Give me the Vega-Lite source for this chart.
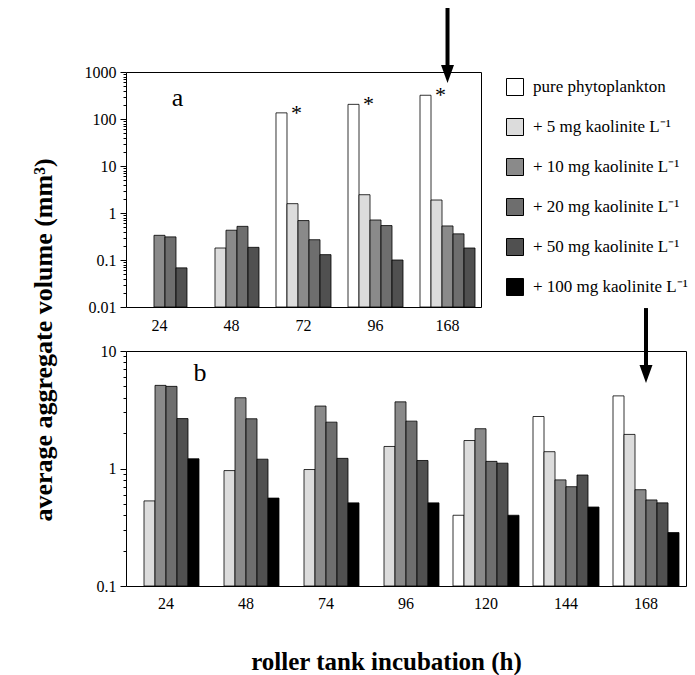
{
  "$schema": "https://vega.github.io/schema/vega-lite/v6.json",
  "background": "white",
  "padding": {"left": 30, "top": 5, "right": 2, "bottom": 0},
  "title": {"text": "average aggregate volume (mm³)", "orient": "left", "anchor": "middle", "font": "Liberation Serif", "fontSize": 26, "fontWeight": "bold", "color": "black", "offset": 27},
  "config": {
    "view": {"stroke": "black", "strokeWidth": 1},
    "font": "Liberation Serif",
    "axis": {"labelFont": "Liberation Serif", "labelFontSize": 16, "labelColor": "black", "domainColor": "black", "tickColor": "black", "grid": false, "titleFont": "Liberation Serif", "titleColor": "black"}
  },
  "datasets": {
    "a": [
      {"t": "24", "s": "+ 10 mg kaolinite L⁻¹", "v": 0.335},
      {"t": "24", "s": "+ 20 mg kaolinite L⁻¹", "v": 0.31},
      {"t": "24", "s": "+ 50 mg kaolinite L⁻¹", "v": 0.068},
      {"t": "48", "s": "+ 5 mg kaolinite L⁻¹", "v": 0.18},
      {"t": "48", "s": "+ 10 mg kaolinite L⁻¹", "v": 0.43},
      {"t": "48", "s": "+ 20 mg kaolinite L⁻¹", "v": 0.52},
      {"t": "48", "s": "+ 50 mg kaolinite L⁻¹", "v": 0.186},
      {"t": "72", "s": "pure phytoplankton", "v": 135},
      {"t": "72", "s": "+ 5 mg kaolinite L⁻¹", "v": 1.58},
      {"t": "72", "s": "+ 10 mg kaolinite L⁻¹", "v": 0.69},
      {"t": "72", "s": "+ 20 mg kaolinite L⁻¹", "v": 0.27},
      {"t": "72", "s": "+ 50 mg kaolinite L⁻¹", "v": 0.13},
      {"t": "96", "s": "pure phytoplankton", "v": 205},
      {"t": "96", "s": "+ 5 mg kaolinite L⁻¹", "v": 2.45},
      {"t": "96", "s": "+ 10 mg kaolinite L⁻¹", "v": 0.71},
      {"t": "96", "s": "+ 20 mg kaolinite L⁻¹", "v": 0.54},
      {"t": "96", "s": "+ 50 mg kaolinite L⁻¹", "v": 0.10},
      {"t": "168", "s": "pure phytoplankton", "v": 320},
      {"t": "168", "s": "+ 5 mg kaolinite L⁻¹", "v": 1.89},
      {"t": "168", "s": "+ 10 mg kaolinite L⁻¹", "v": 0.53},
      {"t": "168", "s": "+ 20 mg kaolinite L⁻¹", "v": 0.36},
      {"t": "168", "s": "+ 50 mg kaolinite L⁻¹", "v": 0.18}
    ],
    "b": [
      {"t": "24", "s": "+ 5 mg kaolinite L⁻¹", "v": 0.53},
      {"t": "24", "s": "+ 10 mg kaolinite L⁻¹", "v": 5.1},
      {"t": "24", "s": "+ 20 mg kaolinite L⁻¹", "v": 5.0},
      {"t": "24", "s": "+ 50 mg kaolinite L⁻¹", "v": 2.66},
      {"t": "24", "s": "+ 100 mg kaolinite L⁻¹", "v": 1.21},
      {"t": "48", "s": "+ 5 mg kaolinite L⁻¹", "v": 0.96},
      {"t": "48", "s": "+ 10 mg kaolinite L⁻¹", "v": 4.0},
      {"t": "48", "s": "+ 20 mg kaolinite L⁻¹", "v": 2.65},
      {"t": "48", "s": "+ 50 mg kaolinite L⁻¹", "v": 1.2},
      {"t": "48", "s": "+ 100 mg kaolinite L⁻¹", "v": 0.56},
      {"t": "74", "s": "+ 5 mg kaolinite L⁻¹", "v": 0.98},
      {"t": "74", "s": "+ 10 mg kaolinite L⁻¹", "v": 3.4},
      {"t": "74", "s": "+ 20 mg kaolinite L⁻¹", "v": 2.48},
      {"t": "74", "s": "+ 50 mg kaolinite L⁻¹", "v": 1.22},
      {"t": "74", "s": "+ 100 mg kaolinite L⁻¹", "v": 0.51},
      {"t": "96", "s": "+ 5 mg kaolinite L⁻¹", "v": 1.54},
      {"t": "96", "s": "+ 10 mg kaolinite L⁻¹", "v": 3.69},
      {"t": "96", "s": "+ 20 mg kaolinite L⁻¹", "v": 2.53},
      {"t": "96", "s": "+ 50 mg kaolinite L⁻¹", "v": 1.17},
      {"t": "96", "s": "+ 100 mg kaolinite L⁻¹", "v": 0.51},
      {"t": "120", "s": "pure phytoplankton", "v": 0.40},
      {"t": "120", "s": "+ 5 mg kaolinite L⁻¹", "v": 1.73},
      {"t": "120", "s": "+ 10 mg kaolinite L⁻¹", "v": 2.18},
      {"t": "120", "s": "+ 20 mg kaolinite L⁻¹", "v": 1.15},
      {"t": "120", "s": "+ 50 mg kaolinite L⁻¹", "v": 1.11},
      {"t": "120", "s": "+ 100 mg kaolinite L⁻¹", "v": 0.40},
      {"t": "144", "s": "pure phytoplankton", "v": 2.77},
      {"t": "144", "s": "+ 5 mg kaolinite L⁻¹", "v": 1.39},
      {"t": "144", "s": "+ 10 mg kaolinite L⁻¹", "v": 0.80},
      {"t": "144", "s": "+ 20 mg kaolinite L⁻¹", "v": 0.70},
      {"t": "144", "s": "+ 50 mg kaolinite L⁻¹", "v": 0.88},
      {"t": "144", "s": "+ 100 mg kaolinite L⁻¹", "v": 0.47},
      {"t": "168", "s": "pure phytoplankton", "v": 4.15},
      {"t": "168", "s": "+ 5 mg kaolinite L⁻¹", "v": 1.95},
      {"t": "168", "s": "+ 10 mg kaolinite L⁻¹", "v": 0.66},
      {"t": "168", "s": "+ 20 mg kaolinite L⁻¹", "v": 0.54},
      {"t": "168", "s": "+ 50 mg kaolinite L⁻¹", "v": 0.51},
      {"t": "168", "s": "+ 100 mg kaolinite L⁻¹", "v": 0.285}
    ],
    "starsA": [
      {"t": "72", "s": "pure phytoplankton", "v": 135, "label": "*"},
      {"t": "96", "s": "pure phytoplankton", "v": 205, "label": "*"},
      {"t": "168", "s": "pure phytoplankton", "v": 320, "label": "*"}
    ],
    "labA": [{"t": "24", "v": 280, "label": "a"}],
    "labB": [{"t": "24", "v": 6.5, "label": "b"}],
    "arrowA": [{"t": "168", "top": 23000, "bottom": 1200, "tip": 580}],
    "arrowB": [{"t": "168", "top": 23.2, "bottom": 7.6, "tip": 5.35}]
  },
  "concat": [
    {
      "width": 355,
      "height": 235,
      "layer": [
        {
          "data": {"name": "a"},
          "mark": {"type": "bar", "stroke": "black", "strokeWidth": 0.8},
          "encoding": {
            "x": {"field": "t", "type": "ordinal", "scale": {"domain": ["24", "48", "72", "96", "168"], "paddingInner": 0.236, "paddingOuter": 0.083}, "axis": {"title": null, "labelAngle": 0, "ticks": false, "tickSize": 0, "domain": false, "labelPadding": 10}},
            "xOffset": {"field": "s", "type": "nominal", "scale": {"domain": ["pure phytoplankton", "+ 5 mg kaolinite L⁻¹", "+ 10 mg kaolinite L⁻¹", "+ 20 mg kaolinite L⁻¹", "+ 50 mg kaolinite L⁻¹"], "paddingInner": 0, "paddingOuter": 0}},
            "y": {"field": "v", "type": "quantitative", "scale": {"type": "log", "domain": [0.01, 1000]}, "axis": {"title": null, "orient": "left", "values": [0.01, 0.1, 1, 10, 100, 1000], "format": "~g", "tickSize": 6, "labelPadding": 4, "domain": false}},
            "y2": {"datum": 0.01},
            "fill": {"field": "s", "type": "nominal", "scale": {"domain": ["pure phytoplankton", "+ 5 mg kaolinite L⁻¹", "+ 10 mg kaolinite L⁻¹", "+ 20 mg kaolinite L⁻¹", "+ 50 mg kaolinite L⁻¹", "+ 100 mg kaolinite L⁻¹"], "range": ["#ffffff", "#dcdcdc", "#8a8a8a", "#6e6e6e", "#505050", "#000000"]}, "legend": {"title": null, "orient": "right", "offset": 19, "padding": 6, "symbolType": "square", "symbolSize": 289, "symbolStrokeColor": "black", "symbolStrokeWidth": 1, "symbolOpacity": 1, "labelFont": "Liberation Serif", "labelFontSize": 17, "labelColor": "black", "labelOffset": 9, "rowPadding": 18, "labelLimit": 300}}
          }
        },
        {
          "data": {"name": "starsA"},
          "mark": {"type": "text", "font": "Liberation Serif", "fontSize": 22, "align": "center", "baseline": "alphabetic", "dx": 15, "dy": 7, "color": "black"},
          "encoding": {
            "x": {"field": "t", "type": "ordinal", "scale": {"domain": ["24", "48", "72", "96", "168"]}},
            "xOffset": {"field": "s", "type": "nominal", "scale": {"domain": ["pure phytoplankton", "+ 5 mg kaolinite L⁻¹", "+ 10 mg kaolinite L⁻¹", "+ 20 mg kaolinite L⁻¹", "+ 50 mg kaolinite L⁻¹"]}},
            "y": {"field": "v", "type": "quantitative", "scale": {"type": "log", "domain": [0.01, 1000]}, "axis": {"title": null, "orient": "left", "values": [0.02, 0.03, 0.04, 0.05, 0.06, 0.07, 0.08, 0.09, 0.2, 0.3, 0.4, 0.5, 0.6, 0.7, 0.8, 0.9, 2, 3, 4, 5, 6, 7, 8, 9, 20, 30, 40, 50, 60, 70, 80, 90, 200, 300, 400, 500, 600, 700, 800, 900], "labels": false, "tickSize": 3, "domain": false}},
            "text": {"field": "label"}
          }
        },
        {
          "data": {"name": "labA"},
          "mark": {"type": "text", "font": "Liberation Serif", "fontSize": 26, "align": "center", "baseline": "middle", "dx": 18, "color": "black"},
          "encoding": {
            "x": {"field": "t", "type": "ordinal", "scale": {"domain": ["24", "48", "72", "96", "168"]}},
            "y": {"field": "v", "type": "quantitative", "scale": {"type": "log", "domain": [0.01, 1000]}, "axis": null},
            "text": {"field": "label"}
          }
        },
        {
          "data": {"name": "arrowA"},
          "mark": {"type": "rule", "color": "black", "strokeWidth": 4},
          "encoding": {
            "x": {"field": "t", "type": "ordinal", "scale": {"domain": ["24", "48", "72", "96", "168"]}},
            "y": {"field": "top", "type": "quantitative", "scale": {"type": "log", "domain": [0.01, 1000]}, "axis": null},
            "y2": {"field": "bottom"}
          }
        },
        {
          "data": {"name": "arrowA"},
          "mark": {"type": "point", "shape": "M-0.72,-2L0.72,-2L0,0Z", "size": 324, "filled": true, "color": "black", "opacity": 1, "strokeWidth": 0},
          "encoding": {
            "x": {"field": "t", "type": "ordinal", "scale": {"domain": ["24", "48", "72", "96", "168"]}},
            "y": {"field": "tip", "type": "quantitative", "scale": {"type": "log", "domain": [0.01, 1000]}, "axis": null}
          }
        }
      ],
      "resolve": {"axis": {"y": "independent"}}
    },
    {
      "width": 560,
      "height": 235,
      "layer": [
        {
          "data": {"name": "b"},
          "mark": {"type": "bar", "stroke": "black", "strokeWidth": 0.8},
          "encoding": {
            "x": {"field": "t", "type": "ordinal", "scale": {"domain": ["24", "48", "74", "96", "120", "144", "168"], "paddingInner": 0.175, "paddingOuter": 0.0875}, "axis": {"title": "roller tank incubation (h)", "titleFont": "Liberation Serif", "titleFontSize": 25, "titleFontWeight": "bold", "titlePadding": 38, "titleX": 260, "labelAngle": 0, "ticks": false, "tickSize": 0, "domain": false, "labelPadding": 9}},
            "xOffset": {"field": "s", "type": "nominal", "scale": {"domain": ["pure phytoplankton", "+ 5 mg kaolinite L⁻¹", "+ 10 mg kaolinite L⁻¹", "+ 20 mg kaolinite L⁻¹", "+ 50 mg kaolinite L⁻¹", "+ 100 mg kaolinite L⁻¹"], "paddingInner": 0, "paddingOuter": 0}},
            "y": {"field": "v", "type": "quantitative", "scale": {"type": "log", "domain": [0.1, 10]}, "axis": {"title": null, "orient": "left", "values": [0.1, 1, 10], "format": "~g", "tickSize": 6, "labelPadding": 4, "domain": false}},
            "y2": {"datum": 0.1},
            "fill": {"field": "s", "type": "nominal", "scale": {"domain": ["pure phytoplankton", "+ 5 mg kaolinite L⁻¹", "+ 10 mg kaolinite L⁻¹", "+ 20 mg kaolinite L⁻¹", "+ 50 mg kaolinite L⁻¹", "+ 100 mg kaolinite L⁻¹"], "range": ["#ffffff", "#dcdcdc", "#8a8a8a", "#6e6e6e", "#505050", "#000000"]}, "legend": null}
          }
        },
        {
          "data": {"name": "labB"},
          "mark": {"type": "text", "font": "Liberation Serif", "fontSize": 26, "align": "center", "baseline": "middle", "dx": 34, "color": "black"},
          "encoding": {
            "x": {"field": "t", "type": "ordinal", "scale": {"domain": ["24", "48", "74", "96", "120", "144", "168"]}},
            "y": {"field": "v", "type": "quantitative", "scale": {"type": "log", "domain": [0.1, 10]}, "axis": {"title": null, "orient": "left", "values": [0.2, 0.3, 0.4, 0.5, 0.6, 0.7, 0.8, 0.9, 2, 3, 4, 5, 6, 7, 8, 9], "labels": false, "tickSize": 3, "domain": false}},
            "text": {"field": "label"}
          }
        },
        {
          "data": {"name": "arrowB"},
          "mark": {"type": "rule", "color": "black", "strokeWidth": 4},
          "encoding": {
            "x": {"field": "t", "type": "ordinal", "scale": {"domain": ["24", "48", "74", "96", "120", "144", "168"]}},
            "y": {"field": "top", "type": "quantitative", "scale": {"type": "log", "domain": [0.1, 10]}, "axis": null},
            "y2": {"field": "bottom"}
          }
        },
        {
          "data": {"name": "arrowB"},
          "mark": {"type": "point", "shape": "M-0.72,-2L0.72,-2L0,0Z", "size": 324, "filled": true, "color": "black", "opacity": 1, "strokeWidth": 0},
          "encoding": {
            "x": {"field": "t", "type": "ordinal", "scale": {"domain": ["24", "48", "74", "96", "120", "144", "168"]}},
            "y": {"field": "tip", "type": "quantitative", "scale": {"type": "log", "domain": [0.1, 10]}, "axis": null}
          }
        }
      ],
      "resolve": {"axis": {"y": "independent"}}
    }
  ],
  "columns": 1,
  "align": "none",
  "spacing": -29,
  "resolve": {"scale": {"x": "independent", "y": "independent", "xOffset": "independent", "fill": "independent"}}
}
